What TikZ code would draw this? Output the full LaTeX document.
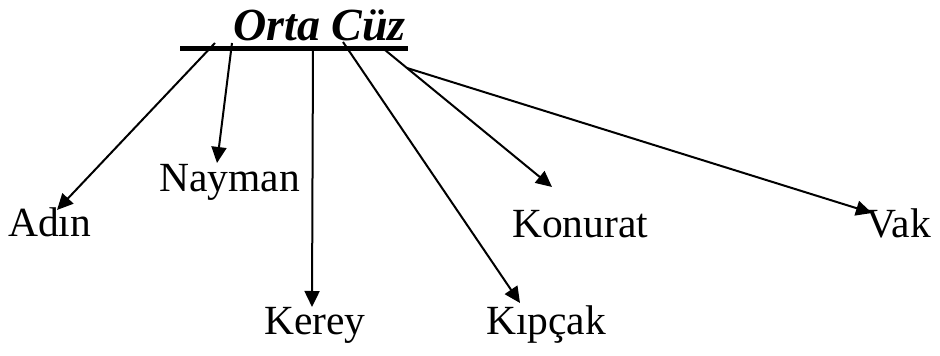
\documentclass[tikz,border=0pt]{standalone}
\usepackage{fontspec}
\setmainfont{Liberation Serif}
\usetikzlibrary{arrows.meta}
\begin{document}
\begin{tikzpicture}[x=1pt,y=1pt,
  lbl/.style={anchor=base west,inner sep=0pt,font=\fontsize{41.5}{49}\selectfont},
  ttl/.style={anchor=base west,inner sep=0pt,font=\fontsize{46}{54}\selectfont\bfseries\itshape},
  conn/.style={line width=2pt,-{Triangle[length=16pt,width=15pt]}},
  barline/.style={line width=5pt}]
\useasboundingbox (0,0) rectangle (940,356);
\node[ttl] (title) at (233,315) {Orta Cüz};
\coordinate (bl) at (180,307.5);
\coordinate (br) at (408,307.5);
\draw[barline] (bl) -- (br);
\node[lbl] (adin) at (8,119) {Adın};
\node[lbl] (nayman) at (159,164) {Nayman};
\node[lbl] (kerey) at (264,21) {Kerey};
\node[lbl] (kipcak) at (486,21) {Kıpçak};
\node[lbl] (konurat) at (512,118) {Konurat};
\node[lbl] (vak) at (866,118) {Vak};
% start points on the bar
\coordinate (sA) at (215,313);
\coordinate (sN) at (232,313);
\coordinate (sK) at (313,308);
\coordinate (sQ) at (343,314);
\coordinate (sO) at (385,306);
\coordinate (sV) at (407,288);
% arrow tips
\coordinate (tA) at (57,146);
\coordinate (tN) at (217,193);
\coordinate (tK) at (312,49);
\coordinate (tQ) at (520,53);
\coordinate (tO) at (552,169);
\coordinate (tV) at (872,143);
\draw[conn] (sA) -- (tA);
\draw[conn] (sN) -- (tN);
\draw[conn] (sK) -- (tK);
\draw[conn] (sQ) -- (tQ);
\draw[conn] (sO) -- (tO);
\draw[conn] (sV) -- (tV);
\end{tikzpicture}
\end{document}
